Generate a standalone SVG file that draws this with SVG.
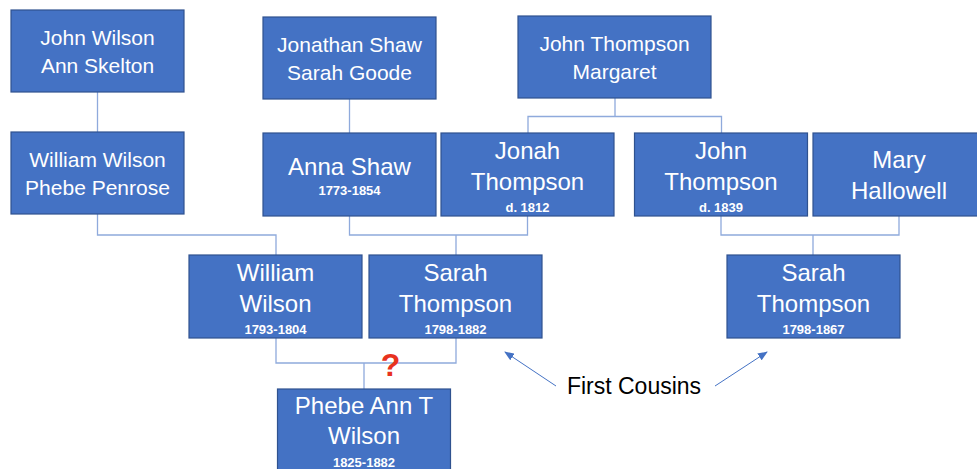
<svg xmlns="http://www.w3.org/2000/svg" width="977" height="469" viewBox="0 0 977 469">
<style>
.box{fill:#4472C4;stroke:#2F528F;stroke-width:1.2}
.t{fill:#fff;font-family:"Liberation Sans",Arial,sans-serif;text-anchor:middle}
.m{font-size:21px}
.l{font-size:24px}
.s{font-size:13px;font-weight:bold}
.c{fill:none;stroke:#8FAADC;stroke-width:1.3}
.a{fill:none;stroke:#4472C4;stroke-width:1}
</style>
<defs>
<marker id="ah" markerWidth="10" markerHeight="8" refX="9" refY="4" orient="auto" markerUnits="userSpaceOnUse">
<path d="M0,0 L10,4 L0,8 Z" fill="#4472C4"/>
</marker>
</defs>
<rect width="977" height="469" fill="#fff"/>
<g id="connectors">
<path class="c" d="M97.5 92 V132"/>
<path class="c" d="M349.5 99 V133"/>
<path class="c" d="M615 98 V116.5 M528 133 V116.5 H721.5 V133"/>
<path class="c" d="M97.5 214 V235 H276 V255"/>
<path class="c" d="M349.5 216 V235 H527.5 V216 M456 235 V255"/>
<path class="c" d="M721 216 V235 H899 V216 M813 235 V255"/>
<path class="c" d="M276 338 V363 H456 V338 M364 363 V389"/>
<path class="a" d="M556 386 L505 352" marker-end="url(#ah)"/>
<path class="a" d="M715 386 L767 352" marker-end="url(#ah)"/>
</g>
<g id="n1"><rect class="box" x="11" y="10" width="173" height="82"/>
<text class="t m" x="97.5" y="45">John Wilson</text><text class="t m" x="97.5" y="73">Ann Skelton</text></g>
<g id="n2"><rect class="box" x="11" y="132" width="173" height="82"/>
<text class="t m" x="97.5" y="167">William Wilson</text><text class="t m" x="97.5" y="195">Phebe Penrose</text></g>
<g id="n3"><rect class="box" x="263" y="17" width="173" height="82"/>
<text class="t m" x="349.5" y="52">Jonathan Shaw</text><text class="t m" x="349.5" y="80">Sarah Goode</text></g>
<g id="n4"><rect class="box" x="518" y="16" width="193" height="82"/>
<text class="t m" x="614.5" y="51">John Thompson</text><text class="t m" x="614.5" y="79">Margaret</text></g>
<g id="n5"><rect class="box" x="263" y="133" width="173" height="83"/>
<text class="t l" x="349.5" y="175">Anna Shaw</text><text class="t s" x="349.5" y="195">1773-1854</text></g>
<g id="n6"><rect class="box" x="441" y="133" width="173" height="83"/>
<text class="t l" x="527.5" y="159">Jonah</text><text class="t l" x="527.5" y="190">Thompson</text><text class="t s" x="527.5" y="212">d. 1812</text></g>
<g id="n7"><rect class="box" x="634.5" y="133" width="173" height="83"/>
<text class="t l" x="721" y="159">John</text><text class="t l" x="721" y="190">Thompson</text><text class="t s" x="721" y="212">d. 1839</text></g>
<g id="n8"><rect class="box" x="813" y="133" width="173" height="83"/>
<text class="t l" x="899" y="168">Mary</text><text class="t l" x="899" y="199">Hallowell</text></g>
<g id="n9"><rect class="box" x="189" y="255" width="173" height="83"/>
<text class="t l" x="275.5" y="281">William</text><text class="t l" x="275.5" y="312">Wilson</text><text class="t s" x="275.5" y="334">1793-1804</text></g>
<g id="n10"><rect class="box" x="369" y="255" width="173" height="83"/>
<text class="t l" x="455.5" y="281">Sarah</text><text class="t l" x="455.5" y="312">Thompson</text><text class="t s" x="455.5" y="334">1798-1882</text></g>
<g id="n11"><rect class="box" x="277.5" y="389" width="173" height="83"/>
<text class="t l" x="364" y="414">Phebe Ann T</text><text class="t l" x="364" y="444">Wilson</text><text class="t s" x="364" y="467">1825-1882</text></g>
<g id="n12"><rect class="box" x="727" y="255" width="173" height="83"/>
<text class="t l" x="813.5" y="281">Sarah</text><text class="t l" x="813.5" y="312">Thompson</text><text class="t s" x="813.5" y="334">1798-1867</text></g>
<text x="390.5" y="376" font-family="Liberation Sans,Arial,sans-serif" font-size="32" font-weight="bold" fill="#E8321E" text-anchor="middle">?</text>
<text x="634" y="394" font-family="Liberation Sans,Arial,sans-serif" font-size="23" fill="#000" text-anchor="middle">First Cousins</text>
</svg>
